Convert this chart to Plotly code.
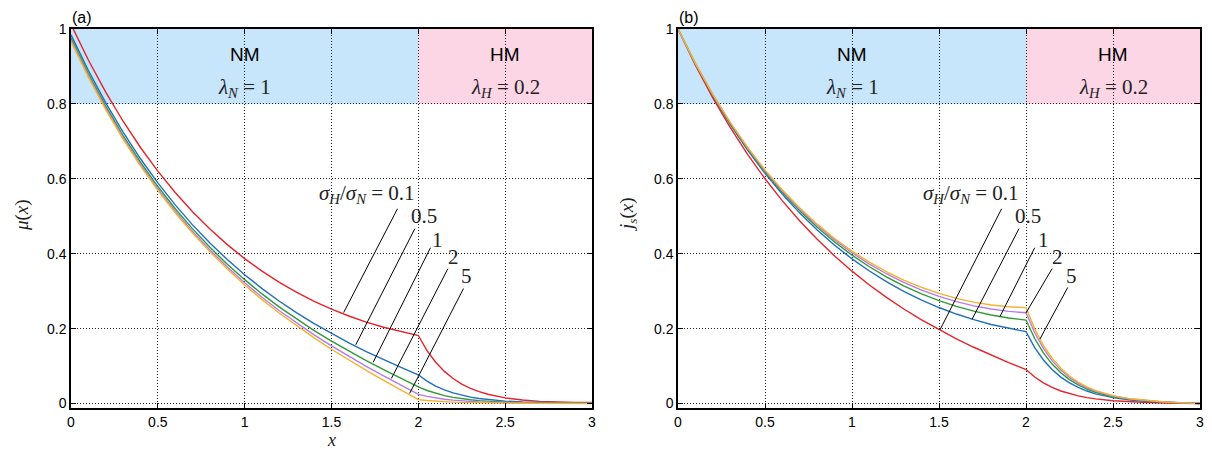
import plotly.graph_objects as go

# ---------------- data ----------------
x = [0.0, 0.1, 0.2, 0.3, 0.4, 0.5, 0.6, 0.7, 0.8, 0.9, 1.0, 1.1, 1.2, 1.3, 1.4,
     1.5, 1.6, 1.7, 1.8, 1.9, 2.0, 2.05, 2.1, 2.15, 2.2, 2.25, 2.3, 2.35, 2.4,
     2.5, 2.6, 2.7, 2.8, 2.9, 3.0]

ratios = ["0.1", "0.5", "1", "2", "5"]

mu_01 = [1.0123, 0.9172, 0.8313, 0.7537, 0.6836, 0.6204, 0.5634, 0.5120, 0.4658, 0.4242,
         0.3868, 0.3534, 0.3234, 0.2968, 0.2730, 0.2520, 0.2336, 0.2174, 0.2035, 0.1916,
         0.1816, 0.1414, 0.1101, 0.0858, 0.0668, 0.0520, 0.0405, 0.0316, 0.0246, 0.0150,
         0.0092, 0.0058, 0.0038, 0.0028, 0.0025]
mu_05 = [0.9844, 0.8892, 0.8028, 0.7245, 0.6535, 0.5890, 0.5304, 0.4770, 0.4285, 0.3843,
         0.3438, 0.3069, 0.2730, 0.2418, 0.2131, 0.1865, 0.1618, 0.1386, 0.1169, 0.0963,
         0.0767, 0.0598, 0.0465, 0.0362, 0.0282, 0.0220, 0.0171, 0.0134, 0.0104, 0.0063,
         0.0039, 0.0024, 0.0016, 0.0012, 0.0010]
mu_1 = [0.9759, 0.8806, 0.7941, 0.7156, 0.6442, 0.5793, 0.5202, 0.4663, 0.4171, 0.3720,
        0.3307, 0.2926, 0.2575, 0.2250, 0.1947, 0.1664, 0.1397, 0.1145, 0.0903, 0.0671,
        0.0446, 0.0347, 0.0270, 0.0211, 0.0164, 0.0128, 0.0100, 0.0078, 0.0060, 0.0037,
        0.0023, 0.0014, 0.0009, 0.0007, 0.0006]
mu_2 = [0.9705, 0.8752, 0.7886, 0.7100, 0.6384, 0.5732, 0.5138, 0.4595, 0.4098, 0.3643,
        0.3223, 0.2836, 0.2477, 0.2143, 0.1831, 0.1537, 0.1258, 0.0992, 0.0735, 0.0487,
        0.0242, 0.0189, 0.0147, 0.0115, 0.0089, 0.0069, 0.0054, 0.0042, 0.0033, 0.0020,
        0.0012, 0.0008, 0.0005, 0.0004, 0.0003]
mu_5 = [0.9668, 0.8714, 0.7848, 0.7061, 0.6344, 0.5690, 0.5094, 0.4549, 0.4049, 0.3589,
        0.3166, 0.2774, 0.2410, 0.2070, 0.1751, 0.1449, 0.1162, 0.0886, 0.0620, 0.0359,
        0.0102, 0.0080, 0.0062, 0.0048, 0.0038, 0.0029, 0.0023, 0.0018, 0.0014, 0.0008,
        0.0005, 0.0003, 0.0002, 0.0002, 0.0001]

js_01 = [1.0000, 0.9036, 0.8163, 0.7371, 0.6653, 0.6001, 0.5410, 0.4873, 0.4384, 0.3940,
         0.3534, 0.3165, 0.2827, 0.2517, 0.2232, 0.1970, 0.1727, 0.1502, 0.1292, 0.1094,
         0.0908, 0.0707, 0.0551, 0.0429, 0.0334, 0.0260, 0.0202, 0.0158, 0.0123, 0.0074,
         0.0044, 0.0026, 0.0014, 0.0006, 0.0]
js_05 = [1.0000, 0.9064, 0.8219, 0.7456, 0.6767, 0.6147, 0.5587, 0.5084, 0.4632, 0.4226,
         0.3862, 0.3537, 0.3247, 0.2990, 0.2763, 0.2563, 0.2389, 0.2239, 0.2111, 0.2005,
         0.1918, 0.1494, 0.1163, 0.0906, 0.0706, 0.0549, 0.0428, 0.0333, 0.0259, 0.0156,
         0.0094, 0.0055, 0.0030, 0.0013, 0.0]
js_1 = [1.0000, 0.9073, 0.8236, 0.7482, 0.6802, 0.6191, 0.5642, 0.5149, 0.4708, 0.4313,
        0.3962, 0.3651, 0.3376, 0.3135, 0.2925, 0.2745, 0.2592, 0.2465, 0.2363, 0.2284,
        0.2228, 0.1735, 0.1352, 0.1052, 0.0820, 0.0638, 0.0497, 0.0387, 0.0301, 0.0182,
        0.0109, 0.0064, 0.0035, 0.0016, 0.0]
js_2 = [1.0000, 0.9078, 0.8247, 0.7498, 0.6825, 0.6219, 0.5676, 0.5190, 0.4756, 0.4369,
        0.4026, 0.3723, 0.3458, 0.3227, 0.3028, 0.2860, 0.2720, 0.2608, 0.2522, 0.2461,
        0.2424, 0.1888, 0.1470, 0.1145, 0.0892, 0.0694, 0.0540, 0.0421, 0.0327, 0.0198,
        0.0119, 0.0070, 0.0038, 0.0017, 0.0]
js_5 = [1.0000, 0.9082, 0.8254, 0.7509, 0.6840, 0.6239, 0.5700, 0.5218, 0.4789, 0.4407,
        0.4070, 0.3773, 0.3514, 0.3290, 0.3099, 0.2939, 0.2809, 0.2707, 0.2631, 0.2582,
        0.2559, 0.1993, 0.1552, 0.1209, 0.0941, 0.0733, 0.0570, 0.0444, 0.0346, 0.0209,
        0.0125, 0.0073, 0.0040, 0.0018, 0.0]

x_ticks = [0, 0.5, 1, 1.5, 2, 2.5, 3]
x_tick_text = ["0", "0.5", "1", "1.5", "2", "2.5", "3"]
y_ticks = [0, 0.2, 0.4, 0.6, 0.8, 1]
y_tick_text = ["0", "0.2", "0.4", "0.6", "0.8", "1"]

# ---------------- styling / layout helpers ----------------
colors = ["#e5232b", "#1f6fbf", "#2f9a35", "#b77be9", "#f6b22a"]
mu_series = [mu_01, mu_05, mu_1, mu_2, mu_5]
js_series = [js_01, js_05, js_1, js_2, js_5]

# leader lines: (x_start, y_start, x_end, y_end, label_x, label_y)
leaders_a = [(1.57, 0.243, 1.88, 0.52, None, None),
             (1.64, 0.157, 1.98, 0.467, 2.03, 0.50),
             (1.74, 0.110, 2.07, 0.416, 2.11, 0.437),
             (1.845, 0.067, 2.17, 0.36, 2.20, 0.39),
             (1.95, 0.027, 2.26, 0.307, 2.28, 0.34)]
leaders_b = [(1.506, 0.197, 1.86, 0.52, None, None),
             (1.69, 0.225, 1.96, 0.467, 2.01, 0.50),
             (1.85, 0.232, 2.05, 0.416, 2.10, 0.437),
             (2.00, 0.242, 2.15, 0.36, 2.18, 0.39),
             (2.08, 0.172, 2.24, 0.31, 2.26, 0.34)]
main_label_right = {"x": 1.995, "x2": 1.97}

W, H = 1212, 452
dom_a = [71 / W, 592 / W]
dom_b = [678 / W, 1200 / W]
dom_y = [1 - 408 / H, 1 - 29 / H]

fig = go.Figure()
for c, mu, js in zip(colors, mu_series, js_series):
    fig.add_trace(go.Scatter(x=x, y=mu, mode="lines", line=dict(color=c, width=1.4),
                             xaxis="x", yaxis="y", showlegend=False))
    fig.add_trace(go.Scatter(x=x, y=js, mode="lines", line=dict(color=c, width=1.4),
                             xaxis="x2", yaxis="y2", showlegend=False))

sans = "Liberation Sans, Arial, sans-serif"
serif = "Liberation Serif, Times New Roman, serif"
tick_font = dict(family=sans, size=14, color="black")
math_font = dict(family=serif, size=21, color="#222")

def xax(domain, anchor):
    return dict(domain=domain, anchor=anchor, range=[0, 3], tickvals=x_ticks,
                ticktext=x_tick_text, ticks="inside", ticklen=5, tickcolor="black",
                mirror="allticks", showline=True, linecolor="black", linewidth=1.5,
                showgrid=True, griddash="1px,2px", gridcolor="#222", gridwidth=1,
                zeroline=False, tickfont=tick_font)

def yax(domain, anchor):
    return dict(domain=domain, anchor=anchor, range=[-0.012, 1.0], tickvals=y_ticks,
                ticktext=y_tick_text, ticks="inside", ticklen=5, tickcolor="black",
                mirror="allticks", showline=True, linecolor="black", linewidth=1.5,
                showgrid=True, griddash="1px,2px", gridcolor="#222", gridwidth=1,
                zeroline=False, tickfont=tick_font)

shapes = []
annotations = []
for xr, yr, leaders in (("x", "y", leaders_a), ("x2", "y2", leaders_b)):
    shapes.append(dict(type="rect", xref=xr, yref=yr, x0=0, x1=2, y0=0.8, y1=1.0,
                       fillcolor="#c7e5fb", line=dict(width=0), layer="below"))
    shapes.append(dict(type="rect", xref=xr, yref=yr, x0=2, x1=3, y0=0.8, y1=1.0,
                       fillcolor="#fdd6e6", line=dict(width=0), layer="below"))
    annotations += [
        dict(xref=xr, yref=yr, x=1, y=0.932, text="NM", showarrow=False, yanchor="middle",
             font=dict(family=sans, size=19, color="black")),
        dict(xref=xr, yref=yr, x=1, y=0.842, yanchor="middle",
             text="<i>λ</i><sub><i>N</i></sub>&nbsp;=&nbsp;1",
             showarrow=False, font=math_font),
        dict(xref=xr, yref=yr, x=2.5, y=0.932, text="HM", showarrow=False, yanchor="middle",
             font=dict(family=sans, size=19, color="black")),
        dict(xref=xr, yref=yr, x=2.5, y=0.842, yanchor="middle",
             text="<i>λ</i><sub><i>H</i></sub>&nbsp;=&nbsp;0.2",
             showarrow=False, font=math_font),
        dict(xref=xr, yref=yr, x=main_label_right[xr], y=0.56, xanchor="right", yanchor="middle",
             text="<i>σ</i><sub><i>H</i></sub>/<i>σ</i><sub><i>N</i></sub>&nbsp;=&nbsp;0.1",
             showarrow=False, font=math_font),
    ]
    for (xs, ys, xe, ye, lx, ly), lab in zip(leaders, ratios):
        shapes.append(dict(type="line", xref=xr, yref=yr, x0=xs, y0=ys, x1=xe, y1=ye,
                           line=dict(color="black", width=1)))
        if lx is not None:
            annotations.append(dict(xref=xr, yref=yr, x=lx, y=ly, text=lab, showarrow=False,
                                    yanchor="middle", font=math_font))

# panel labels and axis titles
annotations += [
    dict(xref="paper", yref="paper", x=70 / W, y=1 - 17 / H, xanchor="left", yanchor="middle",
         text="(a)", showarrow=False, font=dict(family=sans, size=16, color="black")),
    dict(xref="paper", yref="paper", x=677 / W, y=1 - 17 / H, xanchor="left", yanchor="middle",
         text="(b)", showarrow=False, font=dict(family=sans, size=16, color="black")),
    dict(xref="paper", yref="paper", x=22 / W, y=1 - 215 / H, text="<i>μ</i>(<i>x</i>)",
         xanchor="center", yanchor="middle",
         textangle=-90, showarrow=False, font=dict(family=serif, size=19, color="#222")),
    dict(xref="paper", yref="paper", x=628 / W, y=1 - 215 / H,
         text="<i>j</i><sub><i>s</i></sub>(<i>x</i>)", xanchor="center", yanchor="middle",
         textangle=-90, showarrow=False, font=dict(family=serif, size=19, color="#222")),
    dict(xref="paper", yref="paper", x=(71 + 592) / 2 / W, y=1 - 440 / H, text="<i>x</i>",
         xanchor="center", yanchor="middle",
         showarrow=False, font=dict(family=serif, size=18, color="#222")),
]

fig.update_layout(
    width=W, height=H, margin=dict(l=0, r=0, t=0, b=0, autoexpand=False),
    paper_bgcolor="white", plot_bgcolor="white",
    xaxis=xax(dom_a, "y"), yaxis=yax(dom_y, "x"),
    xaxis2=xax(dom_b, "y2"), yaxis2=yax(dom_y, "x2"),
    shapes=shapes, annotations=annotations, showlegend=False,
)

fig.write_html("out.html")
